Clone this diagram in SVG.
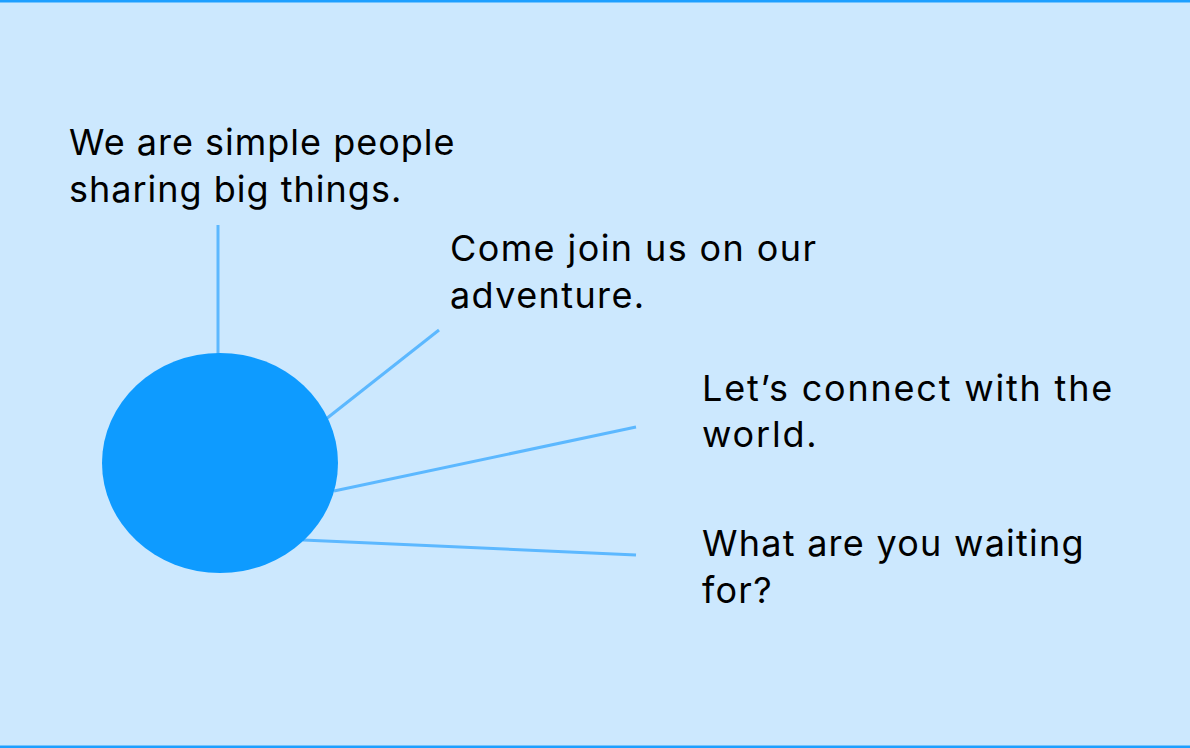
<svg xmlns="http://www.w3.org/2000/svg" width="1190" height="748" viewBox="0 0 1190 748">
<style>
.lbl{font-family:Inter,"Noto Sans","Liberation Sans",sans-serif;font-size:36px;letter-spacing:1.4px;fill:#000}
.conn{stroke:#5cb8ff;stroke-width:3;fill:none}
</style>
<rect x="0" y="0" width="1190" height="748" fill="#cce8fe"/>
<rect x="0" y="0" width="1190" height="2.5" fill="#1e9fff"/>
<rect x="0" y="745.5" width="1190" height="2.5" fill="#1e9fff"/>
<g id="connectors">
<line class="conn" x1="218" y1="225" x2="218" y2="356"/>
<line class="conn" x1="326" y1="419" x2="439" y2="330"/>
<line class="conn" x1="334" y1="491" x2="636" y2="427"/>
<line class="conn" x1="303" y1="540" x2="636" y2="555"/>
</g>
<g id="hub"><ellipse cx="220" cy="463" rx="118" ry="110" fill="#0e9bff"/></g>
<g id="t1"><text class="lbl" x="69" y="155" style="letter-spacing:1px">We are simple people</text><text class="lbl" x="69" y="202" style="letter-spacing:1px">sharing big things.</text></g>
<g id="t2"><text class="lbl" x="450" y="261">Come join us on our</text><text class="lbl" x="450" y="308">adventure.</text></g>
<g id="t3"><text class="lbl" x="702" y="401" style="letter-spacing:1.8px">Let’s connect with the</text><text class="lbl" x="702" y="447" style="letter-spacing:1.8px">world.</text></g>
<g id="t4"><text class="lbl" x="702" y="556" style="letter-spacing:1.25px">What are you waiting</text><text class="lbl" x="702" y="603" style="letter-spacing:1.25px">for?</text></g>
</svg>
